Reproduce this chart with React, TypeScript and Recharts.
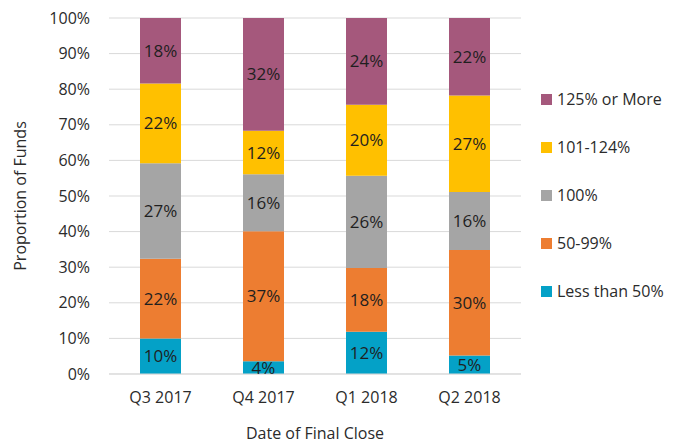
import React from 'react';
import { BarChart, Bar, XAxis, YAxis, CartesianGrid, Legend, LabelList } from 'recharts';

const categories = ['Q3 2017', 'Q4 2017', 'Q1 2018', 'Q2 2018'];
const lessThan50 = [10.0, 3.6, 11.9, 5.2];
const pct50to99 = [22.4, 36.5, 17.9, 29.6];
const pct100 = [26.8, 16.0, 25.9, 16.3];
const pct101to124 = [22.4, 12.2, 19.9, 27.1];
const pct125plus = [18.4, 31.7, 24.4, 21.8];
const yTicks = [0, 10, 20, 30, 40, 50, 60, 70, 80, 90, 100];

const series = [
  { key: 'lt50', name: 'Less than 50%', values: lessThan50, color: '#04A1C7' },
  { key: 'p50', name: '50-99%', values: pct50to99, color: '#ED7D31' },
  { key: 'p100', name: '100%', values: pct100, color: '#A5A5A5' },
  { key: 'p101', name: '101-124%', values: pct101to124, color: '#FFC000' },
  { key: 'p125', name: '125% or More', values: pct125plus, color: '#A5587C' },
];

const data = categories.map((c, i) => {
  const row: Record<string, any> = { category: c };
  series.forEach((s) => {
    row[s.key] = s.values[i];
  });
  return row;
});

const FONT = '"Open Sans", sans-serif';
const TEXT = '#2b2b2b';

const LegendContent = () => {
  const items = [...series].reverse();
  return (
    <div style={{ width: 150, fontFamily: FONT }}>
      {items.map((s) => (
        <div key={s.key} style={{ height: 48, display: 'flex', alignItems: 'center', paddingLeft: 20 }}>
          <span style={{ width: 11, height: 11, background: s.color, display: 'inline-block', marginRight: 5 }} />
          <span style={{ fontSize: 16, color: TEXT, whiteSpace: 'nowrap' }}>{s.name}</span>
        </div>
      ))}
    </div>
  );
};

export default function App() {
  return (
    <div style={{ position: 'absolute', left: 0, top: 0, width: 690, height: 443, background: '#fff' }}>
      <BarChart
        width={690}
        height={443}
        data={data}
        margin={{ top: 18, right: 19, bottom: 0, left: 9 }}
        style={{ fontFamily: FONT }}
      >
        <CartesianGrid vertical={false} stroke="#D9D9D9" />
        <XAxis
          dataKey="category"
          height={69}
          axisLine={{ stroke: '#D9D9D9' }}
          tickLine={false}
          tickSize={0}
          tickMargin={18}
          tick={{ fontSize: 16, fill: TEXT }}
          label={{ value: 'Date of Final Close', position: 'insideBottom', offset: 4, fontSize: 16, fill: TEXT }}
        />
        <YAxis
          width={100}
          domain={[0, 100]}
          allowDataOverflow
          ticks={yTicks}
          interval={0}
          tickFormatter={(v: number) => `${v}%`}
          axisLine={false}
          tickLine={false}
          tickSize={0}
          tickMargin={19}
          tick={{ fontSize: 16, fill: TEXT }}
          label={{
            content: (p: any) => {
              const vb = p.viewBox || {};
              const cy = (vb.y || 0) + (vb.height || 0) / 2;
              return (
                <text
                  x={20}
                  y={cy}
                  transform={`rotate(-90, 20, ${cy})`}
                  textAnchor="middle"
                  dominantBaseline="central"
                  fontSize={16}
                  fill={TEXT}
                  fontFamily={FONT}
                >
                  Proportion of Funds
                </text>
              );
            },
          }}
        />
        <Legend
          layout="vertical"
          align="right"
          verticalAlign="top"
          width={150}
          wrapperStyle={{ top: 75 }}
          content={<LegendContent />}
        />
        {series.map((s) => (
          <Bar key={s.key} dataKey={s.key} name={s.name} stackId="a" fill={s.color} barSize={41} isAnimationActive={false}>
            <LabelList
              dataKey={s.key}
              position="center"
              formatter={(v: any) => `${Math.round(Number(v))}%`}
              style={{ fontSize: 17, fill: '#1f1f1f', fontFamily: FONT }}
            />
          </Bar>
        ))}
      </BarChart>
    </div>
  );
}
